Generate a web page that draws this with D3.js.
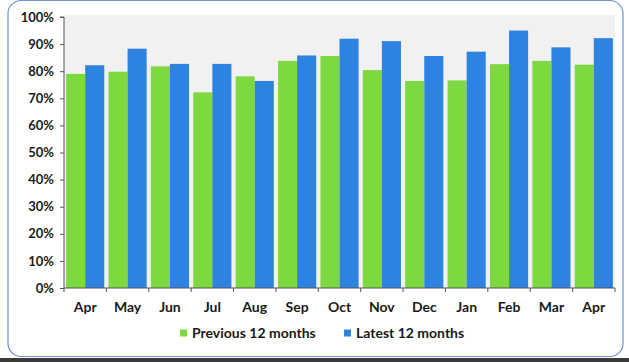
<!DOCTYPE html>
<html>
<head>
<meta charset="utf-8">
<script src="https://cdn.jsdelivr.net/npm/d3@7"></script>
<style>
  html, body { margin: 0; padding: 0; background: #ffffff; }
  svg { display: block; }
  text { font-family: Lato, "Open Sans", sans-serif; font-weight: 700; fill: #1a1a1a; }
</style>
</head>
<body>
<svg id="chart" width="629" height="362"></svg>
<script>
// Monthly percentages, previous vs latest 12-month period
const months = ["Apr", "May", "Jun", "Jul", "Aug", "Sep", "Oct", "Nov", "Dec", "Jan", "Feb", "Mar", "Apr"];
const previous12 = [79, 79.8, 81.8, 72.2, 78.1, 83.8, 85.6, 80.4, 76.4, 76.6, 82.6, 83.8, 82.4];
const latest12 = [82.2, 88.3, 82.7, 82.7, 76.4, 85.8, 92.0, 91.1, 85.6, 87.2, 95.0, 88.8, 92.2];
const seriesNames = ["Previous 12 months", "Latest 12 months"];
const yTicks = [0, 10, 20, 30, 40, 50, 60, 70, 80, 90, 100];

const colors = ["#7ed83f", "#2e83e0"];
const W = 629, H = 362;
const margin = { left: 64, right: 14, top: 17, bottom: 74 };

const svg = d3.select("#chart");

// Outer frame with rounded corners
svg.append("rect")
  .attr("x", 8).attr("y", 0.5)
  .attr("width", 615).attr("height", 356)
  .attr("rx", 13).attr("ry", 13)
  .attr("fill", "#ffffff")
  .attr("stroke", "#6f93d3").attr("stroke-width", 1.2);

// Dark strip along the bottom edge
svg.append("rect")
  .attr("x", 0).attr("y", 358).attr("width", W).attr("height", 4)
  .attr("fill", "#3a3a3a");

const x0 = d3.scaleBand()
  .domain(d3.range(months.length))
  .range([margin.left, W - margin.right])
  .paddingInner(0.1).paddingOuter(0.05);

const x1 = d3.scaleBand()
  .domain([0, 1])
  .range([0, x0.bandwidth()]);

const y = d3.scaleLinear()
  .domain([0, 100])
  .range([H - margin.bottom, margin.top]);

// Plot area background
svg.append("rect")
  .attr("x", margin.left).attr("y", margin.top - 2)
  .attr("width", W - margin.right - margin.left)
  .attr("height", y(0) - margin.top + 2)
  .attr("fill", "#f1f1f1");

// Bars
const groups = svg.append("g")
  .selectAll("g")
  .data(months.map((m, i) => ({ i, vals: [previous12[i], latest12[i]] })))
  .join("g")
  .attr("transform", d => `translate(${x0(d.i)},0)`);

groups.selectAll("rect")
  .data(d => d.vals.map((v, s) => ({ s, v })))
  .join("rect")
  .attr("x", d => x1(d.s))
  .attr("y", d => y(d.v))
  .attr("width", x1.bandwidth())
  .attr("height", d => y(0) - y(d.v))
  .attr("fill", d => colors[d.s]);

// Y axis
const yAxis = d3.axisLeft(y)
  .tickValues(yTicks)
  .tickFormat(d => d + "%")
  .tickSize(4)
  .tickPadding(6);

const gy = svg.append("g")
  .attr("transform", `translate(${margin.left},0)`)
  .call(yAxis);
gy.select(".domain").attr("stroke", "#555").attr("d", `M-4,${y(100)}H0V${y(0)}`);
gy.selectAll(".tick line").attr("stroke", "#555");
gy.selectAll(".tick text").style("font-size", "13px").attr("fill", "#1a1a1a");

// X axis with ticks on category boundaries
const plotW = W - margin.right - margin.left;
const gx = svg.append("g")
  .attr("transform", `translate(0,${y(0)})`);
gx.append("line")
  .attr("x1", margin.left).attr("x2", W - margin.right)
  .attr("y1", 0).attr("y2", 0)
  .attr("stroke", "#555");
gx.selectAll("line.tk")
  .data(d3.range(months.length + 1))
  .join("line")
  .attr("class", "tk")
  .attr("x1", i => margin.left + i * plotW / months.length)
  .attr("x2", i => margin.left + i * plotW / months.length)
  .attr("y1", 0).attr("y2", 4)
  .attr("stroke", "#555");
gx.selectAll("text")
  .data(months)
  .join("text")
  .attr("x", (d, i) => x0(i) + x0.bandwidth() / 2)
  .attr("y", 24)
  .attr("text-anchor", "middle")
  .style("font-size", "14px")
  .text(d => d);

// Legend
const legend = svg.append("g").attr("transform", "translate(180,333)");
const legendX = [0, 164];
seriesNames.forEach((name, s) => {
  const g = legend.append("g").attr("transform", `translate(${legendX[s]},0)`);
  g.append("rect")
    .attr("x", 0).attr("y", -3.5)
    .attr("width", 7).attr("height", 7)
    .attr("fill", colors[s]);
  g.append("text")
    .attr("x", 12).attr("y", 0)
    .attr("dy", "0.35em")
    .style("font-size", "14px")
    .text(name);
});
</script>
</body>
</html>
